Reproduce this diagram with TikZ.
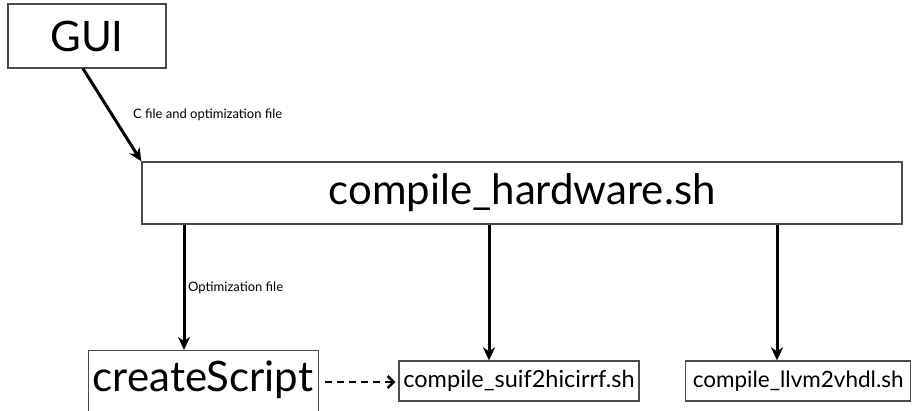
\documentclass[tikz,border=0pt]{standalone}
\usepackage{fontspec}
\setmainfont{Lato}
\usetikzlibrary{arrows.meta}
\begin{document}
\begin{tikzpicture}[x=1pt,y=-1pt,
  box/.style={draw=black!70,line width=1.3pt,inner sep=0pt},
  conn/.style={line width=3pt,-{Stealth[length=13pt,width=12pt,inset=4pt]}},
  lbl/.style={font=\fontsize{13}{15}\selectfont,anchor=west,inner sep=0pt}]
\useasboundingbox (0,0) rectangle (912,411);
\node[box,minimum width=158pt,minimum height=64pt,font=\fontsize{42}{46}\selectfont] (gui) at (87,36) {GUI};
\node[box,minimum width=760pt,minimum height=62pt,font=\fontsize{42}{46}\selectfont] (hw) at (522,193) {compile\_hardware.sh};
\node[box,minimum width=230pt,minimum height=70pt,anchor=north west] (cs) at (88,350) {};
\node[font=\fontsize{42}{46}\selectfont] (cst) at (203,380) {createScript};
\node[box,minimum width=240pt,minimum height=40pt,font=\fontsize{23.5}{26}\selectfont] (suif) at (519,381) {compile\_suif2hicirrf.sh};
\node[box,minimum width=225pt,minimum height=40pt,anchor=west,font=\fontsize{22.5}{26}\selectfont] (llvm) at (685,381) {compile\_llvm2vhdl.sh};
\draw[conn] (gui.south -| 83,0) -- (hw.north west);
\node[lbl] (l1) at (133,115) {C file and optimization file};
\draw[conn] (hw.south -| 184,0) -- (cs.north -| 184,0);
\node[lbl] (l2) at (188,288) {Optimization file};
\draw[conn] (hw.south -| 489,0) -- (suif.north -| 489,0);
\draw[conn] (hw.south -| 777,0) -- (llvm.north -| 777,0);
\coordinate (dstart) at (325,382);
\draw[line width=2.4pt,dash pattern=on 7pt off 5pt,-{Straight Barb[length=6pt,width=12pt,line width=2.4pt]}] (dstart) -- ([xshift=-3pt]suif.west |- dstart);
\end{tikzpicture}
\end{document}
